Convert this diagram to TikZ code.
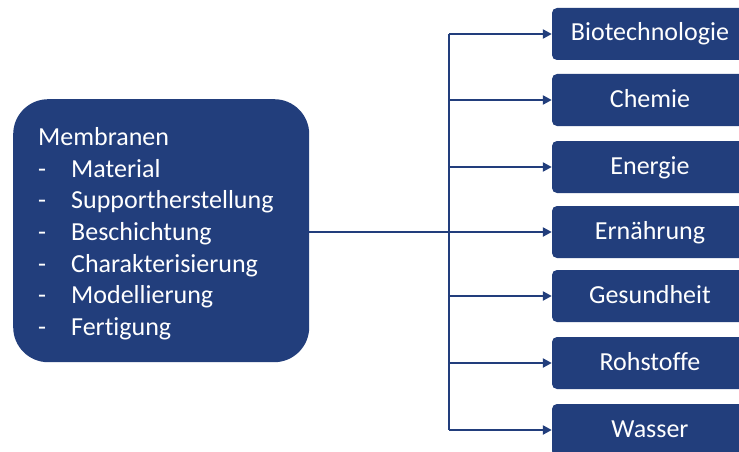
\documentclass[tikz,border=0pt]{standalone}
\usepackage{fontspec}
\setmainfont{Carlito}[Ligatures=NoCommon]
\usetikzlibrary{arrows.meta}
\definecolor{dkblue}{RGB}{34,62,124}
\tikzset{
  mainbox/.style={fill=dkblue, rounded corners=35pt, draw=none},
  areabox/.style={fill=dkblue, rounded corners=5pt, minimum width=196pt, minimum height=52pt,
    text=white, font=\fontsize{26}{30}\selectfont, inner sep=0pt, text height=18pt, text depth=4pt},
  conn/.style={draw=dkblue, line width=2.8pt},
  arr/.style={conn, -{Triangle[length=9pt,width=9pt]}}
}
\begin{document}
\begin{tikzpicture}[x=1pt,y=-1pt]
\useasboundingbox (0,0) rectangle (739,452);
\clip (0,0) rectangle (739,452);
\fill[white] (0,0) rectangle (739,452);
\node[mainbox, minimum width=296pt, minimum height=263pt, anchor=north west] (mem) at (13,99) {};
\node[anchor=north west, text=white, inner sep=0pt, font=\fontsize{26}{31.7}\selectfont, align=left] (memtxt) at (38,123)
  {\begin{tabular}{@{}p{33pt}@{}l@{}}
  \multicolumn{2}{@{}l@{}}{Membranen}\\
  -&Material\\
  -&Supportherstellung\\
  -&Beschichtung\\
  -&Charakterisierung\\
  -&Modellierung\\
  -&Fertigung
  \end{tabular}};
\node[areabox] (bio) at (650,34) {Biotechnologie};
\node[areabox] (che) at (650,100) {Chemie};
\node[areabox] (ene) at (650,167) {Energie};
\node[areabox] (ern) at (650,232) {Ernährung};
\node[areabox] (ges) at (650,296) {Gesundheit};
\node[areabox] (roh) at (650,363) {Rohstoffe};
\node[areabox] (was) at (650,430) {Wasser};
\coordinate (top) at (449,34);
\coordinate (bot) at (449,430);
\draw[conn] (top) -- (bot);
\draw[arr] (mem.east |- ern.west) -- (ern.west);
\foreach \n in {bio,che,ene,ges,roh,was}
  \draw[arr] (top |- \n.west) -- (\n.west);
\end{tikzpicture}
\end{document}
